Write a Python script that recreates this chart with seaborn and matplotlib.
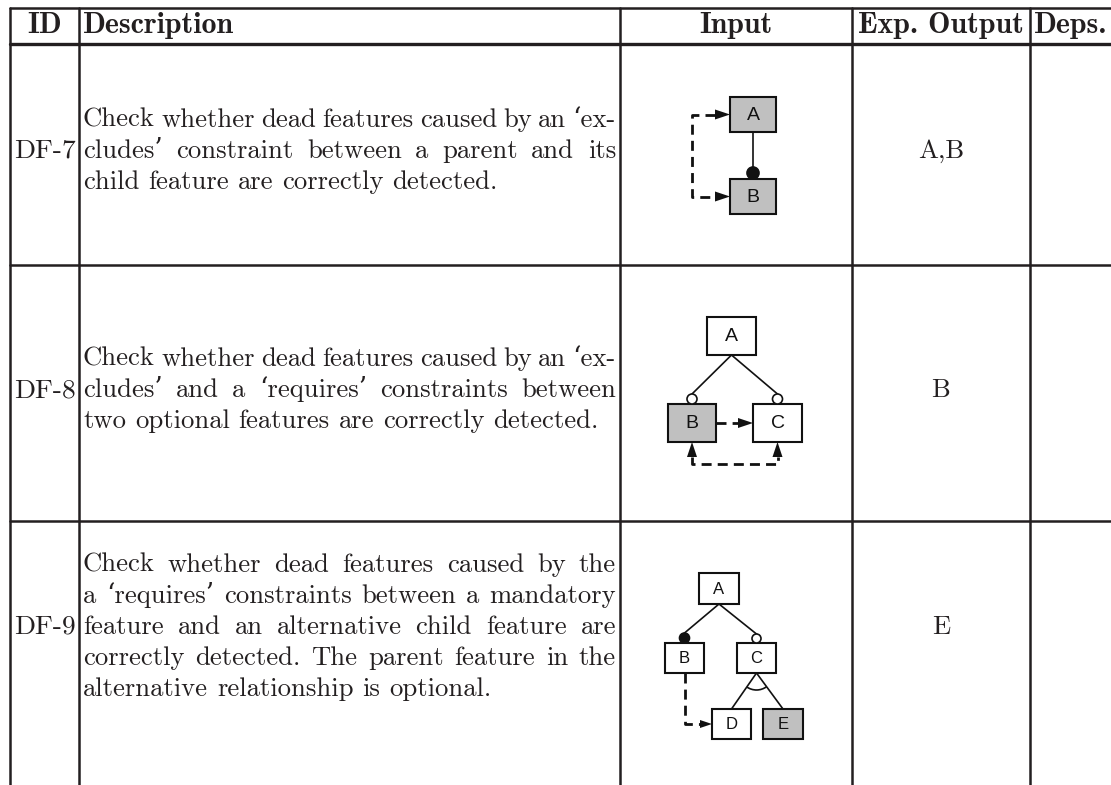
import matplotlib
matplotlib.use("Agg")
import numpy as np
import matplotlib.pyplot as plt
import seaborn as sns
from matplotlib.patches import Rectangle, Circle, Arc, Polygon

sns.set_theme(style="white")
plt.rcParams["font.family"] = ["cmr10", "DejaVu Serif"]

# table content
headers = ["ID", "Description", "Input", "Exp. Output", "Deps."]
case_ids = ["DF-7", "DF-8", "DF-9"]
descriptions = [
    ["Check whether dead features caused by an \u2018ex-",
     "cludes\u2019 constraint between a parent and its",
     "child feature are correctly detected."],
    ["Check whether dead features caused by an \u2018ex-",
     "cludes\u2019 and a \u2018requires\u2019 constraints between",
     "two optional features are correctly detected."],
    ["Check whether dead features caused by the",
     "a \u2018requires\u2019 constraints between a mandatory",
     "feature and an alternative child feature are",
     "correctly detected. The parent feature in the",
     "alternative relationship is optional."],
]
expected_output = ["A,B", "B", "E"]
dependencies = ["", "", ""]
features = [["A", "B"], ["A", "B", "C"], ["A", "B", "C", "D", "E"]]

INK = "#231f20"
DARK = "#111111"
DEAD = "#c0c0c0"
SERIF = ["cmr10", "DejaVu Serif"]
BOLD = ["cmb10", "DejaVu Serif"]
SANS = ["Liberation Sans", "DejaVu Sans"]
FS = 19.2
HFS = 21.5

col_x = [10, 79, 620, 852, 1030]
row_mid = [158, 397, 634]
line_gap = 31.2

fig = plt.figure(figsize=(11.11, 7.85), dpi=100)
ax = fig.add_axes([0, 0, 1, 1])
ax.set_xlim(0, 1111)
ax.set_ylim(785, 0)
ax.axis("off")
renderer = fig.canvas.get_renderer()

# rules
ax.plot([10, 1111], [8, 8], color=INK, lw=1.8)
ax.plot([10, 1111], [43.5, 43.5], color=INK, lw=2.4)
for y in [265, 521]:
    ax.plot([10, 1111], [y, y], color=INK, lw=1.8)
for x in col_x:
    ax.plot([x, x], [8, 785], color=INK, lw=1.8)

# header
ax.text(44.5, 33, headers[0], family=BOLD, fontsize=HFS, ha="center", va="baseline", color=INK)
ax.text(83, 33, headers[1], family=BOLD, fontsize=HFS, ha="left", va="baseline", color=INK)
ax.text(736, 33, headers[2], family=BOLD, fontsize=HFS, ha="center", va="baseline", color=INK)
ax.text(941, 33, headers[3], family=BOLD, fontsize=HFS, ha="center", va="baseline", color=INK)
ax.text(1034, 33, headers[4], family=BOLD, fontsize=HFS, ha="left", va="baseline", color=INK)


def put_line(text, x0, x1, y, justify):
    words = text.split(" ")
    items = [ax.text(x0, y, w, family=SERIF, fontsize=FS, va="baseline", color=INK) for w in words]
    widths = [t.get_window_extent(renderer).width for t in items]
    space = FS * 100 / 72 * 0.333
    if justify and len(items) > 1:
        space = (x1 - x0 - sum(widths)) / (len(items) - 1)
    x = x0
    for t, w in zip(items, widths):
        t.set_x(x)
        x += w + space


for i, lines in enumerate(descriptions):
    n = len(lines)
    top = row_mid[i] - (n - 1) / 2 * line_gap
    for j, line in enumerate(lines):
        put_line(line, 83, 616, top + j * line_gap, j < n - 1)
    ax.text(45, row_mid[i], case_ids[i], family=SERIF, fontsize=FS + 0.6, ha="center", va="baseline", color=INK)
    ax.text(941, row_mid[i], expected_output[i], family=SERIF, fontsize=FS, ha="center", va="baseline", color=INK)
    ax.text(1070, row_mid[i], dependencies[i], family=SERIF, fontsize=FS, ha="center", va="baseline", color=INK)


# feature model helpers
def box(cx, cy, w, h, label, dead, size):
    fill = DEAD if label in dead else "white"
    ax.add_patch(Rectangle((cx - w / 2, cy - h / 2), w, h, fc=fill, ec=DARK, lw=1.5, zorder=3))
    ax.text(cx, cy + 0.5, label, family=SANS, fontsize=size, ha="center", va="center", color=DARK, zorder=4)


def head(tip, direction, length=15, half=5):
    dx, dy = direction
    tx, ty = tip
    bx, by = tx - dx * length, ty - dy * length
    px, py = -dy * half, dx * half
    ax.add_patch(Polygon([(tx, ty), (bx + px, by + py), (bx - px, by - py)],
                         closed=True, fc=DARK, ec="none", zorder=5))


def dashed(xs, ys):
    ax.plot(xs, ys, color=DARK, lw=2.0, dashes=(3.6, 2.2), solid_capstyle="butt", zorder=2)


def solid(xs, ys):
    ax.plot(xs, ys, color=DARK, lw=1.2, zorder=2)


def dot(cx, cy, r, filled):
    ax.add_patch(Circle((cx, cy), r, fc=DARK if filled else "white", ec=DARK, lw=1.2, zorder=4))


# DF-7
dead = expected_output[0].split(",")
f = features[0]
box(753, 114.5, 46, 35, f[0], dead, 14)
box(753, 196.5, 46, 35, f[1], dead, 14)
solid([753, 753], [132, 173])
dot(753, 173, 6, True)
dashed([715, 692, 692, 715], [114.5, 114.5, 196.5, 196.5])
head((730, 114.5), (1, 0))
head((730, 196.5), (1, 0))

# DF-8
dead = expected_output[1].split(",")
f = features[1]
box(731.5, 336, 49, 38, f[0], dead, 14)
box(692, 423, 48, 38, f[1], dead, 14)
box(777.5, 423, 49, 38, f[2], dead, 14)
solid([731.5, 692], [355, 394])
solid([731.5, 777.5], [355, 394])
dot(692, 399, 5, False)
dot(777.5, 399, 5, False)
dashed([716, 739], [423, 423])
head((753, 423), (1, 0))
dashed([692, 692, 777.5, 777.5], [457, 464, 464, 457])
head((692, 442), (0, -1))
head((777.5, 442), (0, -1))

# DF-9
dead = expected_output[2].split(",")
f = features[2]
box(719, 588.5, 40, 31, f[0], dead, 12)
box(684.5, 658, 39, 30, f[1], dead, 12)
box(756.5, 658, 39, 30, f[2], dead, 12)
box(731.5, 724, 39, 30, f[3], dead, 12)
box(783, 724, 40, 30, f[4], dead, 12)
solid([719, 684.5], [604, 633])
solid([719, 756.5], [604, 634])
dot(684.5, 638, 5, True)
dot(756.5, 638.5, 4.5, False)
solid([756.5, 731.5], [673, 709])
solid([756.5, 783], [673, 709])
a1 = np.degrees(np.arctan2(709 - 673, 783 - 756.5))
a2 = np.degrees(np.arctan2(709 - 673, 731.5 - 756.5))
ax.add_patch(Arc((756.5, 673), 34, 34, theta1=a1, theta2=a2, color=DARK, lw=1.2, zorder=2))
dashed([684.5, 684.5, 700], [673, 724, 724])
head((712, 724), (1, 0), 12, 4)

fig.savefig("out.png", dpi=100, facecolor="white")
